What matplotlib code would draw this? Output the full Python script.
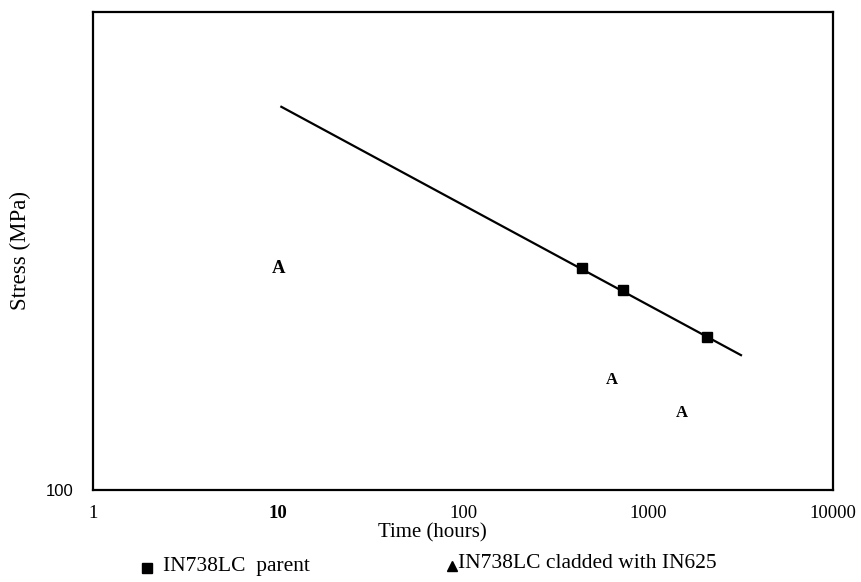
import matplotlib
matplotlib.use("Agg")
import matplotlib.pyplot as plt
from matplotlib.lines import Line2D

# data (log-log creep rupture plot)
parent_time = [440, 732, 2084]
parent_stress = [291, 262, 209]

clad_time = [10.1, 639, 1527]
clad_stress = [291, 170, 145]

fit_time = [10.3, 3220]
fit_stress = [635, 191]

xticks = [1, 10, 100, 1000, 10000]
xtick_labels = ["1", "10", "100", "1000", "10000"]
yticks = [100]
ytick_labels = ["100"]

plt.rcParams['font.family'] = ['Liberation Serif', 'DejaVu Serif']

fig = plt.figure(figsize=(8.62, 5.82), dpi=100)
ax = fig.add_axes([93 / 862, 1 - 490 / 582, 740 / 862, 478 / 582])

ax.set_xscale("log")
ax.set_yscale("log")
ax.set_xlim(1, 10000)
ax.set_ylim(100, 1000)

# regression line and parent points
ax.plot(fit_time, fit_stress, color="black", lw=1.6, solid_capstyle="butt")
ax.plot(parent_time, parent_stress, linestyle="none", marker="s", markersize=7.5,
        markerfacecolor="black", markeredgecolor="black")

# cladded points drawn as "A" letters like in the original
for i, (t, s) in enumerate(zip(clad_time, clad_stress)):
    ax.text(t, s, "A", ha="center", va="center", fontsize=13.5 if i == 0 else 12,
            fontweight="bold", family="Liberation Serif")

for sp in ax.spines.values():
    sp.set_linewidth(1.6)

ax.set_xticks(xticks)
ax.set_xticklabels(xtick_labels, fontsize=13.5)
ax.xaxis.set_minor_locator(matplotlib.ticker.NullLocator())
ax.yaxis.set_minor_locator(matplotlib.ticker.NullLocator())
ax.set_yticks(yticks)
ax.set_yticklabels(ytick_labels, fontsize=12, family="Liberation Sans")
ax.tick_params(axis="x", length=0, pad=11)
ax.tick_params(axis="y", length=0, pad=14)
ax.get_xticklabels()[1].set_fontweight("bold")

fig.text(432 / 862, 1 - 533 / 582, "Time (hours)", ha="center", va="center", fontsize=15)
fig.text(20 / 862, 1 - 250 / 582, "Stress (MPa)", ha="center", va="center",
         rotation=90, fontsize=16.5)

# legend placed by hand
fig.add_artist(Line2D([147 / 862], [1 - 568 / 582], transform=fig.transFigure,
                      marker="s", markersize=7, color="black", linestyle="none"))
fig.text(163 / 862, 1 - 566 / 582, "IN738LC  parent", ha="left", va="center", fontsize=15.5)
fig.add_artist(Line2D([452 / 862], [1 - 566 / 582], transform=fig.transFigure,
                      marker="^", markersize=7.5, color="black", linestyle="none"))
fig.text(458 / 862, 1 - 564 / 582, "IN738LC cladded with IN625", ha="left", va="center",
         fontsize=15.5)

fig.savefig("out.png", dpi=100)
